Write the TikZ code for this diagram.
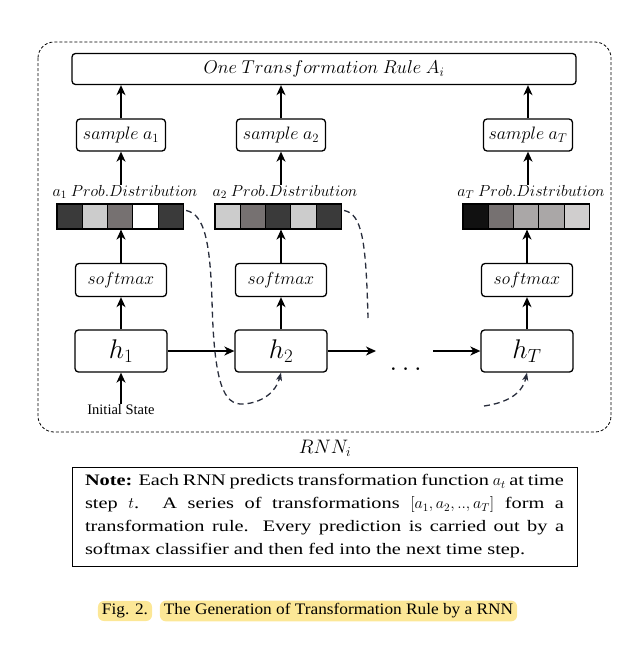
\RequirePackage{fix-cm}
\documentclass[tikz,border=0pt]{standalone}
\usepackage{fontspec}
\usepackage{amsmath}
\setmainfont{Liberation Serif}
\newfontfamily\notefont{Liberation Serif}[FakeStretch=1.27]
\newfontfamily\capfont{Liberation Serif}[FakeStretch=1.08]
\usetikzlibrary{arrows.meta,positioning}
\definecolor{cellDark}{RGB}{58,58,58}
\definecolor{cellLight}{RGB}{204,204,204}
\definecolor{cellMid}{RGB}{118,113,113}
\definecolor{cellBlack}{RGB}{17,17,17}
\definecolor{cellSilver}{RGB}{170,167,167}
\definecolor{cellPale}{RGB}{208,206,206}
\definecolor{feedSlate}{RGB}{40,45,60}
\definecolor{capYellow}{RGB}{252,231,150}

\begin{document}
\begin{tikzpicture}[x=1pt,y=-1pt,
  blk/.style={draw,rounded corners=3.5pt,line width=1.3pt,inner sep=0pt},
  samplebox/.style={blk,minimum width=89pt,minimum height=32pt,font=\fontsize{18}{20}\selectfont},
  softbox/.style={blk,minimum width=91pt,minimum height=33pt,font=\fontsize{17.5}{20}\selectfont},
  hbox/.style={blk,minimum width=92pt,minimum height=42pt,font=\fontsize{27}{30}\selectfont},
  cell/.style={draw,line width=1.1pt,minimum width=25.3pt,minimum height=25pt,inner sep=0pt},
  problabel/.style={font=\fontsize{16}{18}\selectfont,inner sep=0pt},
  up/.style={-{Stealth[length=10pt,width=9pt,inset=3pt]},line width=1.4pt},
  feed/.style={color=feedSlate,line width=1.3pt,dash pattern=on 6pt off 4pt,-{Stealth[length=8pt,width=6pt,inset=2pt]}},
  hilite/.style={fill=capYellow,rounded corners=6pt,inner xsep=4pt,inner ysep=3pt,font=\capfont\fontsize{16}{20}\selectfont}
]
\useasboundingbox (0,0) rectangle (623,654);
\draw[line width=0.8pt,dash pattern=on 3pt off 2pt,rounded corners=16pt] (38,42) rectangle (611,432);

% rule on top
\node[blk,minimum width=504pt,minimum height=31pt,font=\fontsize{18.5}{21}\selectfont] (rule) at (324,69) {$One\ Transformation\ Rule\ A_i$};

% sample nodes
\node[samplebox] (samp1) at (121,135) {$sample\ a_1$};
\node[samplebox] (samp2) at (281,135) {$sample\ a_2$};
\node[samplebox] (sampT) at (528,135) {$sample\ a_T$};

% probability bars
\node[problabel] (lab1) at (125,192) {$a_1\ Prob.Distribution$};
\node[problabel] (lab2) at (285,192) {$a_2\ Prob.Distribution$};
\node[problabel] (labT) at (531,192) {$a_T\ Prob.Distribution$};
\foreach \g [count=\k] in {cellDark,cellLight,cellMid,white,cellDark}
  \node[cell,fill=\g] (pa-\k) at (57+12.65+25.3*\k-25.3,216.5) {};
\foreach \g [count=\k] in {cellLight,cellMid,cellDark,cellLight,cellDark}
  \node[cell,fill=\g] (pb-\k) at (215+12.65+25.3*\k-25.3,216.5) {};
\foreach \g [count=\k] in {cellBlack,cellMid,cellSilver,cellSilver,cellPale}
  \node[cell,fill=\g] (pc-\k) at (463+12.65+25.3*\k-25.3,216.5) {};

% softmax
\node[softbox] (soft1) at (121,280) {$softmax$};
\node[softbox] (soft2) at (281,280) {$softmax$};
\node[softbox] (softT) at (527,280) {$softmax$};

% hidden states
\node[hbox] (h1) at (121,351) {$h_1$};
\node[hbox] (h2) at (281,351) {$h_2$};
\node[hbox] (hT) at (527,351) {$h_T$};
\node[font=\fontsize{28}{30}\selectfont,inner sep=0pt] (dots) at (408,369) {$\dots$};
\coordinate (gap1) at (376,351);
\coordinate (gap2) at (433,351);
\node[font=\fontsize{14.5}{16}\selectfont,inner sep=1pt] (init) at (121,410) {Initial State};

% arrows
\draw[up] (init) -- (h1);
\draw[up] (h1) -- (soft1);
\draw[up] (h2) -- (soft2);
\draw[up] (hT) -- (softT);
\draw[up] (soft1) -- (soft1|-pa-3.south);
\draw[up] (soft2) -- (soft2|-pb-3.south);
\draw[up] (softT) -- (softT|-pc-3.south);
\draw[up] (lab1.north-|samp1) -- (samp1);
\draw[up] (lab2.north-|samp2) -- (samp2);
\draw[up] (labT.north-|sampT) -- (sampT);
\draw[up] (samp1) -- (samp1|-rule.south);
\draw[up] (samp2) -- (samp2|-rule.south);
\draw[up] (sampT) -- (sampT|-rule.south);
\draw[up] (h1) -- (h2);
\draw[up] (h2) -- (gap1);
\draw[up] (gap2) -- (hT);

% feeding back the sampled value
\draw[feed] ([xshift=2pt,yshift=6pt]pa-5.east) .. controls (204,214) and (210,240) .. (212,300) .. controls (214,385) and (224,405) .. (243,404) .. controls (262,403) and (276,392) .. (h2.south);
\coordinate (cut2) at (368,318);
\draw[feed,-] ([xshift=2pt,yshift=6pt]pb-5.east) .. controls (362,214) and (366,240) .. (cut2);
\coordinate (feedT) at (484,406);
\draw[feed] (feedT) .. controls (505,403) and (522,395) .. (hT.south);

\node[font=\fontsize{19.5}{22}\selectfont] (rnn) at (325,448) {$RNN_i$};

% note
\node[draw,line width=1pt,text width=479pt,inner xsep=13pt,inner ysep=0pt,minimum height=99pt,align=justify,font=\notefont\fontsize{16}{23}\selectfont] (note) at (324.5,516.5)
  {\textbf{Note:} Each RNN predicts transformation function $a_t$ at time\linebreak
   step $t$. A series of transformations $[a_1,a_2,..,a_T]$ form a\linebreak
   transformation rule. Every prediction is carried out by a\linebreak
   softmax classifier and then fed into the next time step.};

% caption
\node[hilite] (fig) at (125,611) {Fig. 2.};
\node[hilite] (title) at (338.5,611) {The Generation of Transformation Rule by a RNN};
\end{tikzpicture}
\end{document}
